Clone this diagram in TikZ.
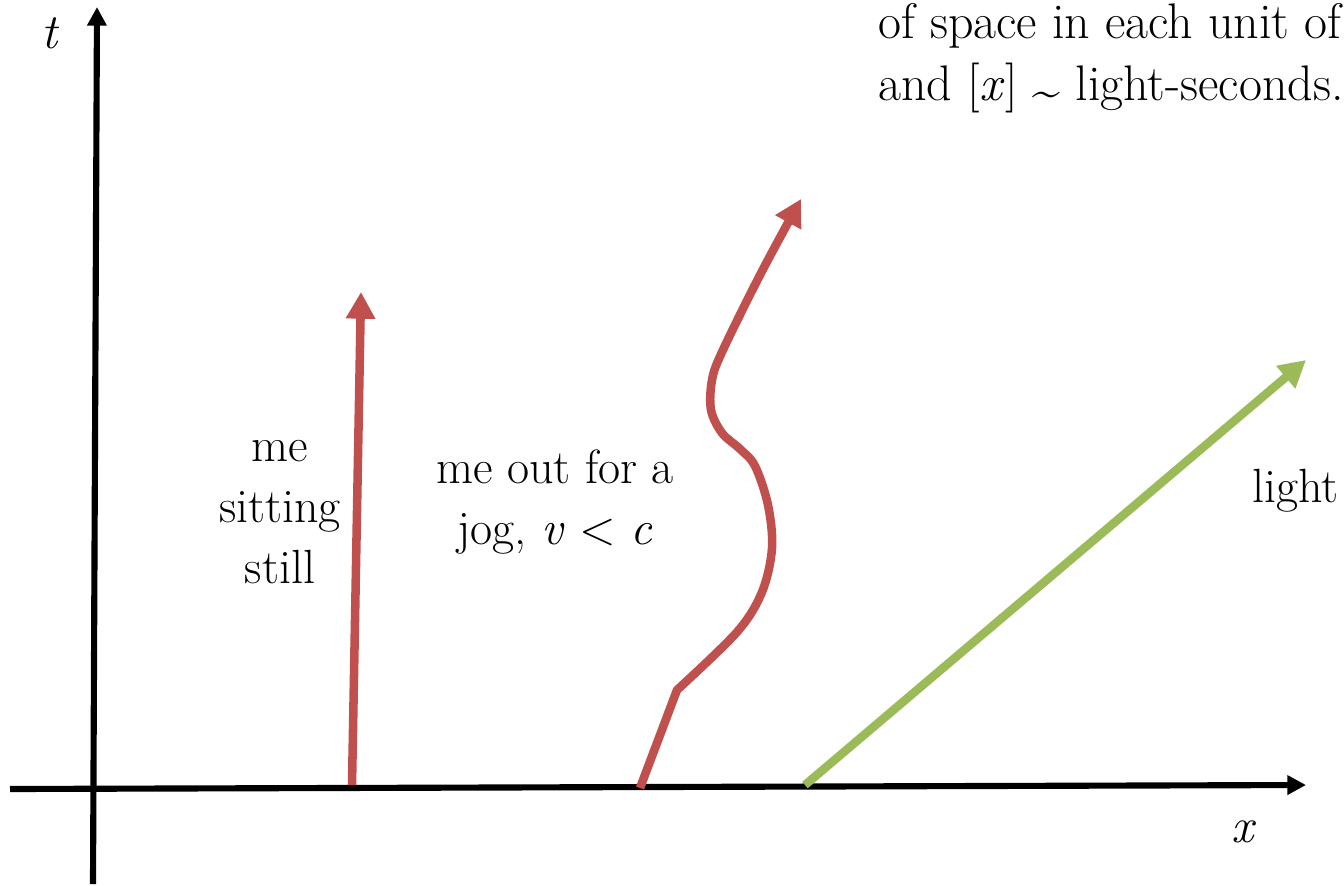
\documentclass[tikz,border=0pt]{standalone}
\usepackage{fontspec}
\setmainfont{Latin Modern Roman}
\usetikzlibrary{arrows.meta}
\definecolor{WRed}{RGB}{192,80,77}
\definecolor{LGreen}{RGB}{155,187,89}
\tikzset{
	ax/.style={line width=4.6pt, draw=black, -{Triangle[length=14pt,width=14pt]}},
	world/.style={line width=6.4pt, draw=WRed, -{Triangle[length=20pt,width=21pt]}},
	ray/.style={line width=6.4pt, draw=LGreen, -{Triangle[length=20pt,width=21pt]}},
	lab/.style={font=\fontsize{36}{45.75}\selectfont, align=center, inner sep=0pt},
	note/.style={font=\fontsize{37.5}{46}\selectfont, inner sep=0pt},
	axlab/.style={font=\fontsize{37}{45.75}\selectfont\itshape, inner sep=0pt}
}

\begin{document}
\begin{tikzpicture}[x=0.75pt, y=-0.75pt]
	\useasboundingbox (0,0) rectangle (1344,885);
	% axes
	\coordinate (xl) at (10,789);
	\coordinate (xr) at (1306,785);
	\coordinate (tb) at (93,884);
	\coordinate (tt) at (97,7);
	\draw[ax] (xl) -- (xr);
	\draw[ax] (tb) -- (tt);
	\node[axlab, anchor=base] (tlab) at (50,48) {t};
	\node[axlab, anchor=base] (xlab) at (1243,842) {x};

	% worldlines
	\coordinate (still0) at (352,785);
	\coordinate (still1) at (361,292);
	\draw[world] (still0) -- (still1);

	\coordinate (jog0) at (640,788);
	\coordinate (jog1) at (677,690);
	\coordinate (jog2) at (801,199);
	\draw[world, line join=round] (jog0) -- (jog1) -- plot[smooth, tension=0.55] coordinates {
		(677,690) (737,632) (762,592) (772,548) (768,505) (755,466)
		(740,449) (722,433) (711,410) (712,380) (722,352) (760,275) (jog2)};

	\coordinate (light0) at (805,785);
	\coordinate (light1) at (1306,360);
	\draw[ray] (light0) -- (light1);

	% labels
	\node[lab, anchor=north] (still) at (280,440) {me\\sitting\\still};
	\node[lab, anchor=north] (jog) at (555,450) {me out for a\\jog, \textit{v} < \textit{c}};
	\node[lab, anchor=base west] (light) at (1252,502) {light};
	\node[note, anchor=base west] (note1) at (878,38) {of space in each unit of};
	\node[note, anchor=base west] (note2) at (878,100) {and [\textit{x}] \raisebox{-0.35ex}{\textasciitilde} light-seconds.};
\end{tikzpicture}
\end{document}
